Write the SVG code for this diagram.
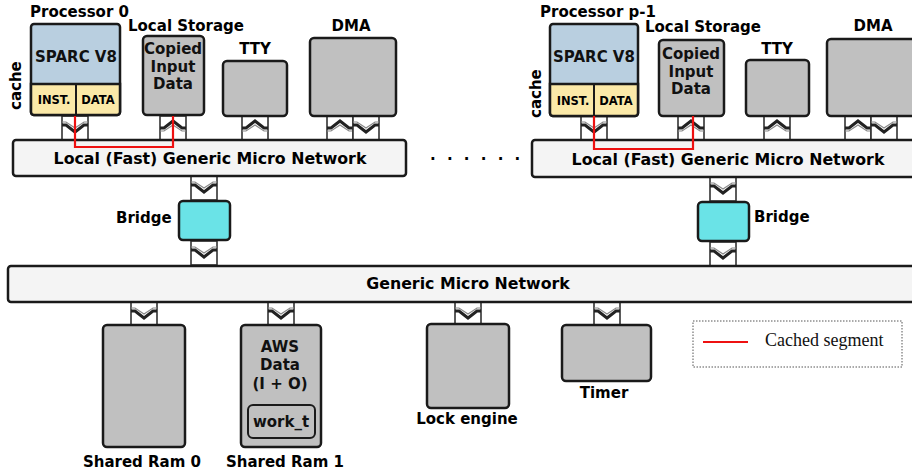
<svg xmlns="http://www.w3.org/2000/svg" xmlns:xlink="http://www.w3.org/1999/xlink" width="912" height="470" viewBox="0 0 912 470">
  <style>
    .lbl { font-family: "DejaVu Sans", sans-serif; font-weight: bold; font-size: 15px; fill: #000; }
    .net { font-family: "DejaVu Sans", sans-serif; font-weight: bold; font-size: 15.8px; fill: #000; text-anchor: middle; }
    .in { font-family: "DejaVu Sans", sans-serif; font-weight: bold; font-size: 15px; fill: #111; text-anchor: middle; }
    .small { font-family: "DejaVu Sans", sans-serif; font-weight: bold; font-size: 11.5px; fill: #000; text-anchor: middle; }
    .box { fill: #c0c0c0; stroke: #1a1a1a; stroke-width: 2.5; }
    .cpu { fill: #b9cfe0; stroke: #1a1a1a; stroke-width: 2.5; }
    .cache { fill: #fbe9a8; stroke: #1a1a1a; stroke-width: 2.5; }
    .bridge { fill: #6ae3e7; stroke: #1a1a1a; stroke-width: 2.5; }
    .bar { fill: #f4f4f4; stroke: #1a1a1a; stroke-width: 2.5; }
    .cached { fill: none; stroke: #ee1111; stroke-width: 2.2; }
    .pframe { fill: #fff; stroke: #333; stroke-width: 1.6; }
    .chev { fill: none; stroke: #222; stroke-width: 3; stroke-linejoin: miter; }
    .chev2 { fill: none; stroke: #888; stroke-width: 1.2; }
  </style>
  <defs>
    <!-- port with a downward chevron, 26 x 24, origin at top centre -->
    <g id="portDown">
      <rect class="pframe" x="-13" y="0" width="26" height="24"/>
      <path class="chev2" d="M-13,6 H-9 L0,12 L9,6 H13"/>
      <path class="chev" d="M-13,9 H-9 L0,16 L9,9 H13"/>
    </g>
    <!-- port with an upward chevron -->
    <g id="portUp">
      <rect class="pframe" x="-13" y="0" width="26" height="24"/>
      <path class="chev" d="M-13,12 H-9 L0,5 L9,12 H13"/>
      <path class="chev2" d="M-13,15 H-9 L0,9 L9,15 H13"/>
    </g>
  </defs>

  <!-- connectors: ports between components and networks -->
  <g id="connectors">
    <use xlink:href="#portDown" x="75" y="116"/>
    <use xlink:href="#portUp" x="173" y="116"/>
    <use xlink:href="#portUp" x="255" y="116"/>
    <use xlink:href="#portUp" x="340" y="116"/>
    <use xlink:href="#portDown" x="366" y="116"/>
    <use xlink:href="#portDown" x="204" y="176"/>
    <use xlink:href="#portDown" x="204" y="241"/>

    <use xlink:href="#portDown" x="594" y="116"/>
    <use xlink:href="#portUp" x="691" y="116"/>
    <use xlink:href="#portUp" x="777" y="116"/>
    <use xlink:href="#portUp" x="858" y="116"/>
    <use xlink:href="#portDown" x="884" y="116"/>
    <use xlink:href="#portDown" x="723" y="177"/>
    <use xlink:href="#portDown" x="723" y="242"/>

    <use xlink:href="#portDown" x="144" y="302"/>
    <use xlink:href="#portDown" x="281" y="302"/>
    <use xlink:href="#portDown" x="468" y="302"/>
    <use xlink:href="#portDown" x="607" y="302"/>
  </g>

  <!-- cluster 0 -->
  <g id="processor0">
    <text class="lbl" x="30" y="17">Processor 0</text>
    <rect class="cpu" x="31" y="24" width="89" height="91" rx="3"/>
    <path class="cache" d="M31,84 H120 V112 a3,3 0 0 1 -3,3 H34 a3,3 0 0 1 -3,-3 Z"/>
    <line x1="76" y1="84" x2="76" y2="115" stroke="#1a1a1a" stroke-width="2"/>
    <text class="in" x="76" y="62">SPARC V8</text>
    <text class="small" x="54" y="104">INST.</text>
    <text class="small" x="98" y="104">DATA</text>
    <text class="lbl" transform="translate(21,110) rotate(-90)">cache</text>
  </g>
  <g id="storage0">
    <text class="lbl" x="128" y="31">Local Storage</text>
    <rect class="box" x="143" y="36" width="61" height="79" rx="4"/>
    <text class="in" x="173" y="54">Copied</text>
    <text class="in" x="173" y="72">Input</text>
    <text class="in" x="173" y="89">Data</text>
  </g>
  <g id="tty0">
    <text class="lbl" x="255" y="54" text-anchor="middle">TTY</text>
    <rect class="box" x="223" y="61" width="64" height="55" rx="4"/>
  </g>
  <g id="dma0">
    <text class="lbl" x="351" y="31" text-anchor="middle">DMA</text>
    <rect class="box" x="310" y="38" width="86" height="78" rx="4"/>
  </g>
  <g id="localnet0">
    <rect class="bar" x="13" y="140" width="393" height="36" rx="3"/>
    <text class="net" x="210" y="164">Local (Fast) Generic Micro Network</text>
  </g>
  <g id="bridge0">
    <rect class="bridge" x="179" y="201" width="51" height="39" rx="4"/>
    <text class="lbl" x="116" y="223">Bridge</text>
  </g>
  <path class="cached" d="M75,116 V147 H173 V116"/>

  <text class="lbl" x="430" y="164" letter-spacing="3">· · · · · ·</text>

  <!-- cluster p-1 -->
  <g id="processorP">
    <text class="lbl" x="540" y="17">Processor p-1</text>
    <rect class="cpu" x="550" y="24" width="88" height="92" rx="3"/>
    <path class="cache" d="M550,84 H638 V113 a3,3 0 0 1 -3,3 H553 a3,3 0 0 1 -3,-3 Z"/>
    <line x1="594" y1="84" x2="594" y2="116" stroke="#1a1a1a" stroke-width="2"/>
    <text class="in" x="594" y="62">SPARC V8</text>
    <text class="small" x="573" y="105">INST.</text>
    <text class="small" x="616" y="105">DATA</text>
    <text class="lbl" transform="translate(541,118) rotate(-90)">cache</text>
  </g>
  <g id="storageP">
    <text class="lbl" x="645" y="32">Local Storage</text>
    <rect class="box" x="659" y="40" width="65" height="76" rx="4"/>
    <text class="in" x="691" y="59">Copied</text>
    <text class="in" x="691" y="77">Input</text>
    <text class="in" x="691" y="94">Data</text>
  </g>
  <g id="ttyP">
    <text class="lbl" x="777" y="54" text-anchor="middle">TTY</text>
    <rect class="box" x="746" y="60" width="63" height="56" rx="4"/>
  </g>
  <g id="dmaP">
    <text class="lbl" x="873" y="31" text-anchor="middle">DMA</text>
    <rect class="box" x="827" y="39" width="95" height="77" rx="4"/>
  </g>
  <g id="localnetP">
    <rect class="bar" x="532" y="140" width="390" height="37" rx="3"/>
    <text class="net" x="728" y="165">Local (Fast) Generic Micro Network</text>
  </g>
  <g id="bridgeP">
    <rect class="bridge" x="698" y="202" width="51" height="39" rx="4"/>
    <text class="lbl" x="754" y="222">Bridge</text>
  </g>
  <path class="cached" d="M594,116 V149 H693 V116"/>

  <!-- global network -->
  <g id="globalnet">
    <rect class="bar" x="8" y="266" width="914" height="36" rx="3"/>
    <text class="net" x="468" y="289">Generic Micro Network</text>
  </g>

  <g id="sharedram0">
    <rect class="box" x="103" y="325" width="82" height="122" rx="4"/>
    <text class="lbl" x="142" y="467" text-anchor="middle">Shared Ram 0</text>
  </g>
  <g id="sharedram1">
    <rect class="box" x="241" y="325" width="80" height="122" rx="4"/>
    <text class="in" x="280" y="352">AWS</text>
    <text class="in" x="280" y="370">Data</text>
    <text class="in" x="280" y="389" font-size="14">(I + O)</text>
    <rect fill="none" stroke="#1a1a1a" stroke-width="2" x="248" y="405" width="67" height="33" rx="5"/>
    <text class="in" x="281" y="427">work_t</text>
    <text class="lbl" x="285" y="467" text-anchor="middle">Shared Ram 1</text>
  </g>
  <g id="lockengine">
    <rect class="box" x="427" y="324" width="82" height="84" rx="4"/>
    <text class="lbl" x="467" y="424" text-anchor="middle">Lock engine</text>
  </g>
  <g id="timer">
    <rect class="box" x="562" y="325" width="89" height="56" rx="4"/>
    <text class="lbl" x="604" y="398" text-anchor="middle">Timer</text>
  </g>

  <g id="legend">
    <rect x="693" y="321" width="209" height="46" fill="#fff" stroke="#555" stroke-width="1" stroke-dasharray="1.5,1.5"/>
    <line x1="703" y1="342" x2="748" y2="342" stroke="#ee1111" stroke-width="2"/>
    <text x="765" y="346" font-family="'Liberation Serif', serif" font-size="18" fill="#111">Cached segment</text>
  </g>
</svg>
